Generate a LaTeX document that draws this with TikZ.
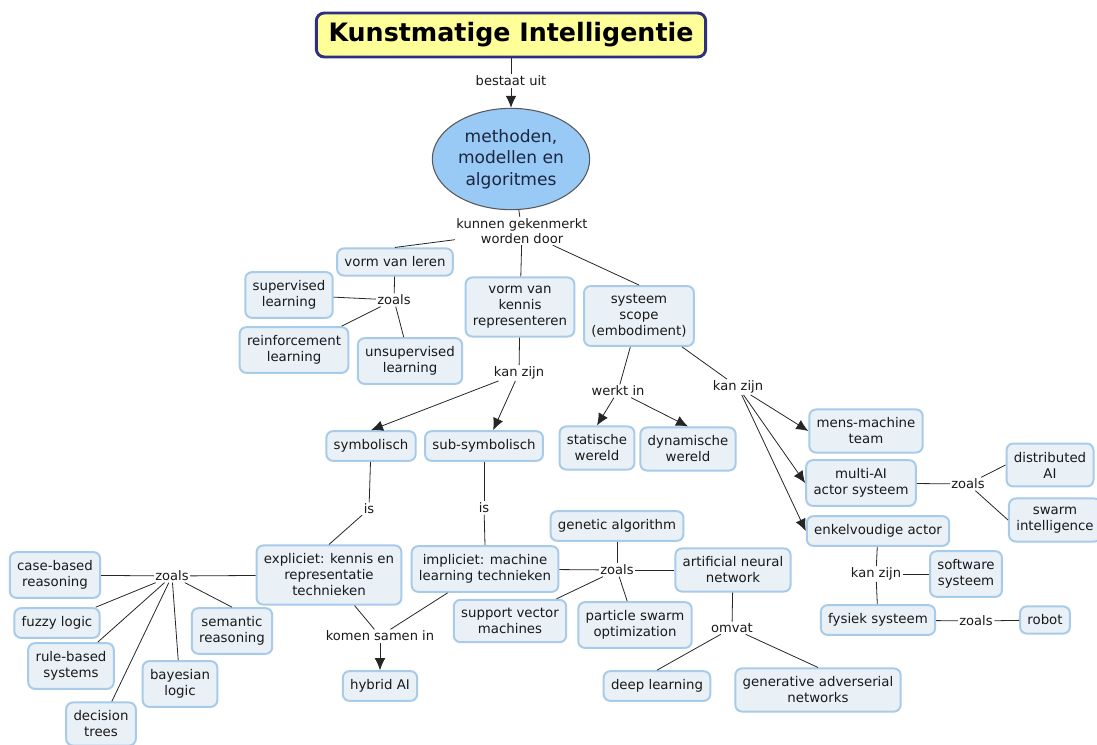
\documentclass[tikz,border=0pt]{standalone}
\usepackage{fontspec}
\setmainfont{DejaVu Sans}
\usetikzlibrary{shapes.geometric,arrows.meta}
\definecolor{boxfill}{HTML}{E9F1F7}
\definecolor{boxline}{HTML}{A8CBEA}
\definecolor{titlefill}{HTML}{FFFF99}
\definecolor{titleline}{HTML}{2E2F7F}
\definecolor{ovalfill}{HTML}{99C9F5}
\definecolor{ovaltext}{HTML}{1B2640}

\begin{document}
\begin{tikzpicture}[x=0.75pt, y=-0.75pt,
    concept/.style={draw=boxline, line width=1.5pt, fill=boxfill, rounded corners=5pt,
      align=center, inner xsep=5.5pt, inner ysep=6.3pt,
      font=\fontsize{10}{12}\selectfont, text=black!90},
    linkword/.style={inner sep=1pt, align=center, font=\fontsize{9.8}{11.3}\selectfont, text=black!90},
    link/.style={line width=0.6pt, black!85},
    tip/.style={link, -{Latex[length=9pt,width=8pt]}}]
  \useasboundingbox (0,0) rectangle (1097,744);

  % title and main concept
  \node[draw=titleline, line width=2.2pt, fill=titlefill, rounded corners=6pt,
    minimum width=292pt, minimum height=33pt,
    font=\fontsize{19}{22}\selectfont\bfseries] (title) at (511,35) {Kunstmatige Intelligentie};
  \node[ellipse, draw=black!65, line width=0.8pt, fill=ovalfill, minimum width=118pt,
    minimum height=76pt, inner sep=0pt, align=center, text=ovaltext,
    font=\fontsize{12.8}{16}\selectfont] (methods) at (511,159) {methoden,\\modellen en\\algoritmes};

  % concepts
  \node[concept] (vleren) at (395,262) {vorm van leren};
  \node[concept] (vkennis) at (520,307) {vorm van\\kennis\\representeren};
  \node[concept] (scope) at (639,316) {systeem\\scope\\(embodiment)};
  \node[concept] (superv) at (289,295) {supervised\\learning};
  \node[concept] (reinf) at (294,350) {reinforcement\\learning};
  \node[concept] (unsup) at (410,361) {unsupervised\\learning};
  \node[concept] (symb) at (371,446) {symbolisch};
  \node[concept] (subsymb) at (484,446) {sub-symbolisch};
  \node[concept] (statisch) at (597,448) {statische\\wereld};
  \node[concept] (dynam) at (688,449) {dynamische\\wereld};
  \node[concept] (mens) at (866,431) {mens-machine\\team};
  \node[concept] (multi) at (861,483) {multi-AI\\actor systeem};
  \node[concept] (enkel) at (878,531) {enkelvoudige actor};
  \node[concept] (distr) at (1050,465) {distributed\\AI};
  \node[concept] (swarm) at (1055,520) {swarm\\intelligence};
  \node[concept] (softw) at (966,574) {software\\systeem};
  \node[concept] (fysiek) at (878,620) {fysiek systeem};
  \node[concept] (robot) at (1045,620) {robot};
  \node[concept] (expl) at (329,575) {expliciet: kennis en\\representatie\\technieken};
  \node[concept] (casebased) at (55,575) {case-based\\reasoning};
  \node[concept] (fuzzy) at (57,623) {fuzzy logic};
  \node[concept] (rulebased) at (71,666) {rule-based\\systems};
  \node[concept] (dectrees) at (101,724) {decision\\trees};
  \node[concept] (bayes) at (180,684) {bayesian\\logic};
  \node[concept] (semantic) at (232,631) {semantic\\reasoning};
  \node[concept] (hybrid) at (380,686) {hybrid AI};
  \node[concept] (impl) at (485,569) {impliciet: machine\\learning technieken};
  \node[concept] (genetic) at (617,526) {genetic algorithm};
  \node[concept] (ann) at (733,570) {artificial neural\\network};
  \node[concept] (svm) at (510,621) {support vector\\machines};
  \node[concept] (pso) at (635,625) {particle swarm\\optimization};
  \node[concept] (deep) at (657,686) {deep learning};
  \node[concept] (gan) at (818,690) {generative adverserial\\networks};

  % linking words
  \node[linkword] (lbestaat) at (511,81) {bestaat uit};
  \node[linkword] (lkenmerk) at (522,231) {kunnen gekenmerkt\\worden door};
  \node[linkword] (lzoalsleren) at (394,300) {zoals};
  \node[linkword] (lkanzijnkennis) at (519,373) {kan zijn};
  \node[linkword] (lwerkt) at (618,391) {werkt in};
  \node[linkword] (lkanzijnscope) at (738,387) {kan zijn};
  \node[linkword] (lzoalsmulti) at (968,484) {zoals};
  \node[linkword] (lkanzijnenkel) at (876,574) {kan zijn};
  \node[linkword] (lzoalsfysiek) at (976,621) {zoals};
  \node[linkword] (lissymb) at (369,509) {is};
  \node[linkword] (lissub) at (484,508) {is};
  \node[linkword] (lzoalsexpl) at (172,576) {zoals};
  \node[linkword] (lsamen) at (380,636) {komen samen in};
  \node[linkword] (lzoalsimpl) at (617,570) {zoals};
  \node[linkword] (lomvat) at (732,628) {omvat};

  % plain connectors
  \foreach \a/\b in {title/lbestaat, methods/lkenmerk, lkenmerk/vleren.north, lkenmerk/vkennis,
      lkenmerk/scope.north, vleren/lzoalsleren, lzoalsleren/superv, lzoalsleren/reinf,
      lzoalsleren/unsup, vkennis/lkanzijnkennis, scope/lwerkt, scope/lkanzijnscope,
      multi/lzoalsmulti, lzoalsmulti/distr.west, lzoalsmulti/swarm.west,
      enkel/lkanzijnenkel, lkanzijnenkel/fysiek, lkanzijnenkel/softw.west,
      fysiek/lzoalsfysiek, lzoalsfysiek/robot, symb/lissymb, lissymb/expl.north,
      subsymb/lissub, lissub/impl.north, expl/lzoalsexpl, lzoalsexpl/casebased,
      lzoalsexpl/fuzzy, lzoalsexpl/rulebased, lzoalsexpl/dectrees, lzoalsexpl/bayes,
      lzoalsexpl/semantic.north, expl/lsamen, impl/lsamen, impl/lzoalsimpl,
      lzoalsimpl/genetic, lzoalsimpl/ann, lzoalsimpl/svm, lzoalsimpl/pso,
      ann/lomvat, lomvat/deep.north, lomvat/gan.north}
    \draw[link] (\a) -- (\b);

  % arrows
  \foreach \a/\b in {lbestaat/methods.north, lkanzijnkennis/symb.north, lkanzijnkennis/subsymb.60,
      lwerkt/statisch.north, lwerkt/dynam.north, lkanzijnscope/mens.west,
      lkanzijnscope/multi.west, lkanzijnscope/enkel.west, lsamen/hybrid}
    \draw[tip] (\a) -- (\b);
\end{tikzpicture}
\end{document}
